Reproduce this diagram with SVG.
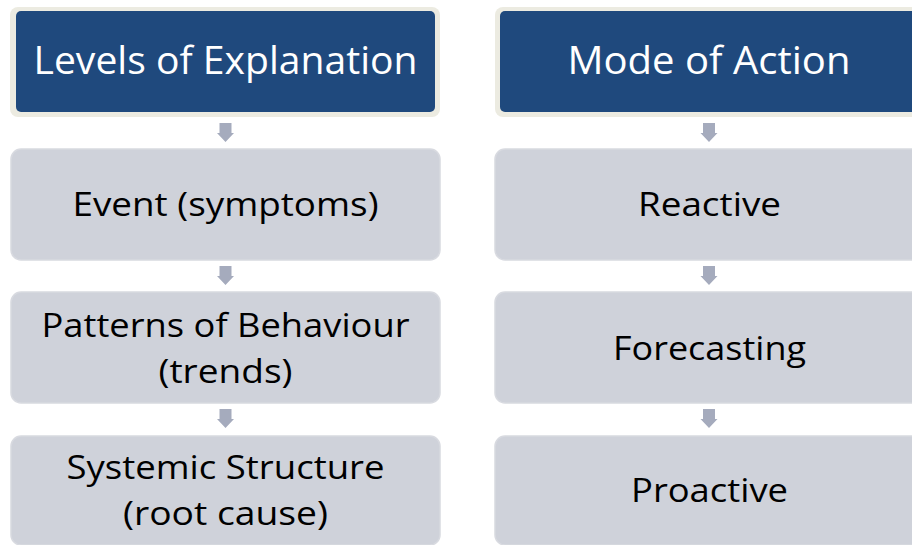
<svg xmlns="http://www.w3.org/2000/svg" width="912" height="545" viewBox="0 0 912 545">
<defs>
<style>
.hdrOuter{fill:#ecebe1}
.hdr{fill:#1f497d}
.box{fill:#cfd2da;stroke:#d8dae0;stroke-width:1.5}
.arr{fill:#a5abbd}
.ht{font-family:"Open Sans","Liberation Sans",sans-serif;font-size:39px;fill:#ffffff;text-anchor:middle}
.bt{font-family:"Open Sans","Liberation Sans",sans-serif;font-size:33px;fill:#000000;text-anchor:middle}
</style>
<path id="dn" d="M-6,0 H6 V10 H8.5 L0,19 L-8.5,10 H-6 Z"/>
</defs>
<rect width="912" height="545" fill="#ffffff"/>
<g id="h1">
<rect class="hdrOuter" x="10" y="7" width="430" height="110" rx="8"/>
<rect class="hdr" x="16" y="11" width="419" height="101" rx="5"/>
<text class="ht" x="225.5" y="74" textLength="384" lengthAdjust="spacingAndGlyphs">Levels of Explanation</text>
</g>
<g id="h2">
<rect class="hdrOuter" x="495" y="7" width="436" height="110" rx="8"/>
<rect class="hdr" x="500" y="11" width="425" height="101" rx="5"/>
<text class="ht" x="709" y="74" textLength="283" lengthAdjust="spacingAndGlyphs">Mode of Action</text>
</g>
<g id="l1">
<rect class="box" x="11" y="149" width="429" height="111" rx="10"/>
<text class="bt" x="225.5" y="216" textLength="306" lengthAdjust="spacingAndGlyphs">Event (symptoms)</text>
</g>
<g id="l2">
<rect class="box" x="11" y="292" width="429" height="111" rx="10"/>
<text class="bt" x="225.5" y="337" textLength="368" lengthAdjust="spacingAndGlyphs">Patterns of Behaviour</text>
<text class="bt" x="225.5" y="383" textLength="134" lengthAdjust="spacingAndGlyphs">(trends)</text>
</g>
<g id="l3">
<rect class="box" x="11" y="436" width="429" height="109" rx="10"/>
<text class="bt" x="225.5" y="479" textLength="318" lengthAdjust="spacingAndGlyphs">Systemic Structure</text>
<text class="bt" x="225.5" y="525" textLength="205" lengthAdjust="spacingAndGlyphs">(root cause)</text>
</g>
<g id="r1">
<rect class="box" x="495" y="149" width="429" height="111" rx="10"/>
<text class="bt" x="709.5" y="216" textLength="143" lengthAdjust="spacingAndGlyphs">Reactive</text>
</g>
<g id="r2">
<rect class="box" x="495" y="292" width="429" height="111" rx="10"/>
<text class="bt" x="709.5" y="360" textLength="193" lengthAdjust="spacingAndGlyphs">Forecasting</text>
</g>
<g id="r3">
<rect class="box" x="495" y="436" width="429" height="109" rx="10"/>
<text class="bt" x="709.5" y="502" textLength="157" lengthAdjust="spacingAndGlyphs">Proactive</text>
</g>
<g id="connectors">
<use href="#dn" class="arr" x="225.5" y="123"/>
<use href="#dn" class="arr" x="225.5" y="266"/>
<use href="#dn" class="arr" x="225.5" y="409"/>
<use href="#dn" class="arr" x="709" y="123"/>
<use href="#dn" class="arr" x="709" y="266"/>
<use href="#dn" class="arr" x="709" y="409"/>
</g>
</svg>
